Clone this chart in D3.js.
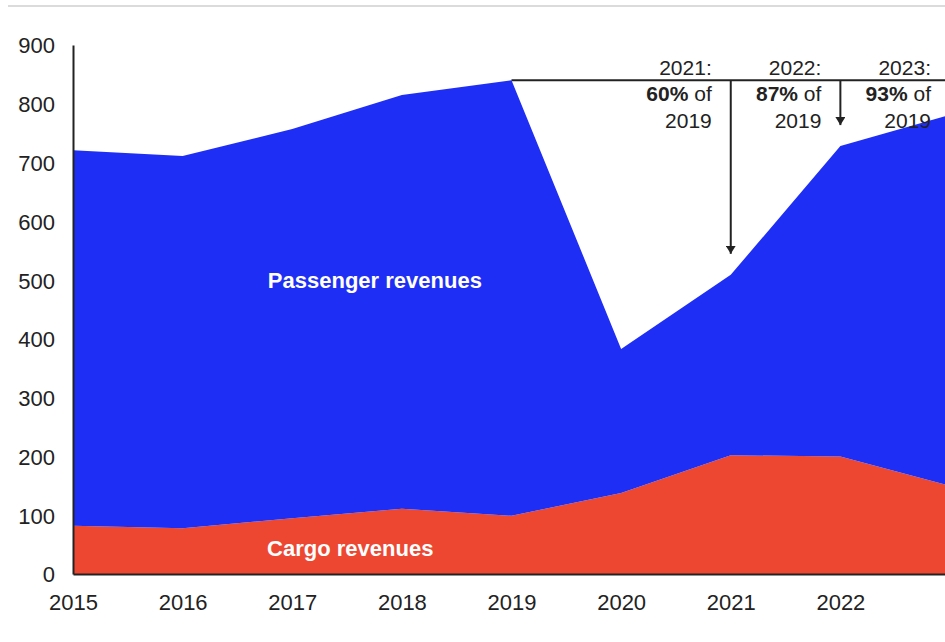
<!DOCTYPE html>
<html>
<head>
<meta charset="utf-8">
<script src="https://cdn.jsdelivr.net/npm/d3@7"></script>
<style>
  html, body { margin: 0; padding: 0; background: #fff; overflow: hidden; }
  svg { display: block; font-family: "Liberation Sans", Arial, Helvetica, sans-serif; }
</style>
</head>
<body>
<svg id="chart" width="945" height="642"></svg>
<script>
// Airline revenues, USD bn
const years = [2015, 2016, 2017, 2018, 2019, 2020, 2021, 2022, 2023];
const cargo = [82, 78, 95, 111, 99, 138, 202, 200, 150];
const passenger = [639, 633, 662, 704, 741, 245, 307, 528, 631];
const yTicks = [0, 100, 200, 300, 400, 500, 600, 700, 800, 900];
const xTickYears = [2015, 2016, 2017, 2018, 2019, 2020, 2021, 2022];

// Recovery callouts relative to 2019 total revenues
const recoveryYears = [2021, 2022, 2023];
const recoveryPct = ["60%", "87%", "93%"];
const baseYear = 2019;

const colors = { passenger: "#1e2ef5", cargo: "#ee4731" };

const svg = d3.select("#chart");
const ink = "#222";

const x = d3.scaleLinear().domain([2015, 2023]).range([73, 950]);
const y = d3.scaleLinear().domain([0, 900]).range([574, 45]);

const rows = years.map((yr, i) => ({ year: yr, cargo: cargo[i], passenger: passenger[i] }));
const stack = d3.stack().keys(["cargo", "passenger"]);
const series = stack(rows);

const area = d3.area()
  .x(d => x(d.data.year))
  .y0(d => y(d[0]))
  .y1(d => y(d[1]));

// Top rule
svg.append("line")
  .attr("x1", 8).attr("x2", 945).attr("y1", 6).attr("y2", 6)
  .attr("stroke", "#cfcfcf").attr("stroke-width", 1.5);

svg.append("g").selectAll("path")
  .data(series)
  .join("path")
  .attr("fill", d => colors[d.key])
  .attr("d", area);

// Axes
const yAxis = d3.axisLeft(y).tickValues(yTicks).tickSize(0).tickPadding(18);
const gy = svg.append("g").attr("transform", "translate(73,0)").call(yAxis);
gy.select(".domain").attr("stroke", ink).attr("stroke-width", 2);
gy.selectAll("text").attr("fill", ink).attr("font-size", 22).attr("dy", "0.36em");

const xAxis = d3.axisBottom(x).tickValues(xTickYears).tickFormat(d3.format("d")).tickSize(0).tickPadding(20);
const gx = svg.append("g").attr("transform", "translate(0,574)").call(xAxis);
gx.select(".domain").attr("stroke", ink).attr("stroke-width", 2);
gx.selectAll("text").attr("fill", ink).attr("font-size", 22);

// Area labels
svg.append("text")
  .attr("x", x(2018) - 27).attr("y", y(500) + 8)
  .attr("text-anchor", "middle")
  .attr("fill", "#fff").attr("font-weight", "bold").attr("font-size", 22)
  .text("Passenger revenues");

svg.append("text")
  .attr("x", x(2017) + 58).attr("y", y(45) + 8)
  .attr("text-anchor", "middle")
  .attr("fill", "#fff").attr("font-weight", "bold").attr("font-size", 22)
  .text("Cargo revenues");

// Baseline at 2019 total
const totals = years.map((yr, i) => cargo[i] + passenger[i]);
const baseTotal = totals[years.indexOf(baseYear)];
const baseY = y(baseTotal);

svg.append("defs").append("marker")
  .attr("id", "arrow")
  .attr("viewBox", "0 0 10 8")
  .attr("refX", 5).attr("refY", 8)
  .attr("markerWidth", 10).attr("markerHeight", 8)
  .attr("markerUnits", "userSpaceOnUse")
  .attr("orient", "0")
  .append("path")
  .attr("d", "M0,0 L10,0 L5,8 Z")
  .attr("fill", ink);

svg.append("line")
  .attr("x1", x(baseYear)).attr("x2", 960)
  .attr("y1", baseY).attr("y2", baseY)
  .attr("stroke", ink).attr("stroke-width", 2);

recoveryYears.forEach((yr, i) => {
  const xi = x(yr);
  const total = totals[years.indexOf(yr)];
  svg.append("line")
    .attr("x1", xi).attr("x2", xi)
    .attr("y1", baseY).attr("y2", y(total) - 21)
    .attr("stroke", ink).attr("stroke-width", 2)
    .attr("marker-end", "url(#arrow)");

  const tx = xi - 19;
  const t = svg.append("g").attr("fill", ink).attr("font-size", 21).attr("text-anchor", "end");
  t.append("text").attr("x", tx).attr("y", baseY - 5).text(yr + ":");
  const l2 = t.append("text").attr("x", tx).attr("y", baseY + 21);
  l2.append("tspan").attr("font-weight", "bold").text(recoveryPct[i]);
  l2.append("tspan").text(" of");
  t.append("text").attr("x", tx).attr("y", baseY + 48).text(baseYear);
});
</script>
</body>
</html>
